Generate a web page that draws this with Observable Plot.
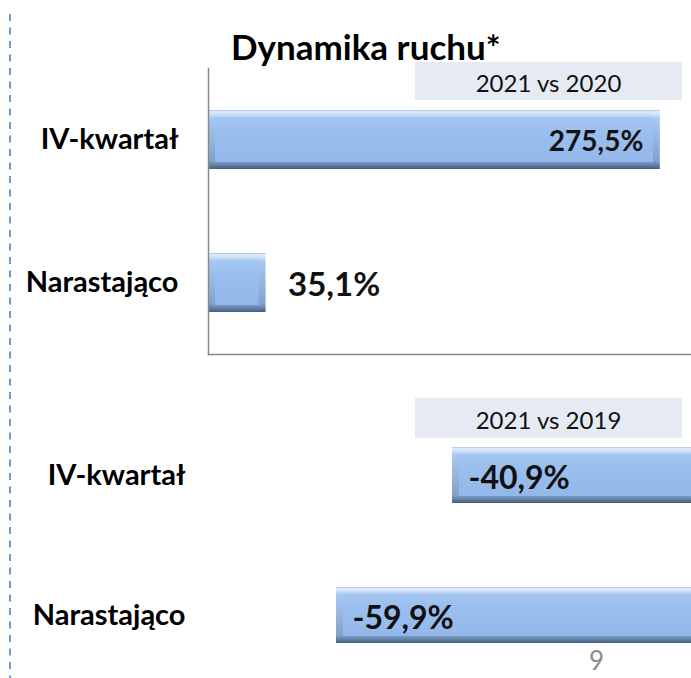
<!DOCTYPE html>
<html>
<head>
<meta charset="utf-8">
<script src="https://cdn.jsdelivr.net/npm/d3@7"></script>
<script src="https://cdn.jsdelivr.net/npm/@observablehq/plot@0.6"></script>
<style>
  html, body { margin: 0; padding: 0; background: #fff; overflow: hidden; }
  #wrap { position: relative; width: 691px; height: 678px; overflow: hidden; font-family: Lato, "Open Sans", sans-serif; }
  #wrap > * { position: absolute; }
  .box { background: #e6ebf3; font-size: 24px; color: #111; display: flex; align-items: center; justify-content: center; padding-top: 2px; box-sizing: border-box; }
  .title { font-weight: bold; font-size: 35px; color: #000; white-space: nowrap; line-height: 1.2; }
</style>
</head>
<body>
<div id="wrap"></div>
<script>
// ---- data ----
const categories = ["IV-kwartał", "Narastająco"];
const values2020 = [275.5, 35.1];
const labels2020 = ["275,5%", "35,1%"];
const values2019 = [-40.9, -59.9];
const labels2019 = ["-40,9%", "-59,9%"];
const chartTitle = "Dynamika ruchu*";
const panelTitles = ["2021 vs 2020", "2021 vs 2019"];
const pageNumber = "9";

const top2020 = categories.map((c, i) => ({cat: c, value: values2020[i], label: labels2020[i]}));
const bot2019 = categories.map((c, i) => ({cat: c, value: values2019[i], label: labels2019[i]}));

const wrap = document.getElementById("wrap");

// bevelled bar layers
function bevel(data, bevelW) {
  const base = {y: "cat", x1: () => 0, x2: "value", clip: true};
  return [
    Plot.barX(data, {...base, fill: "url(#gEdge)"}),
    Plot.ruleX(data, {x: d => Math.max(0, d.value), y: "cat", stroke: "url(#gRight)", strokeWidth: bevelW, dx: -bevelW / 2, clip: true, insetTop: 2, insetBottom: 2}),
    Plot.ruleX(data, {x: d => Math.min(0, d.value), y: "cat", stroke: "url(#gLeft)", strokeWidth: bevelW, dx: bevelW / 2, clip: true, insetTop: 3, insetBottom: 3}),
    Plot.barX(data, {...base, fill: "url(#gFace)", insetTop: bevelW, insetBottom: bevelW, insetLeft: bevelW, insetRight: bevelW})
  ];
}

function addDefs(svg) {
  const defs = d3.select(svg).insert("defs", ":first-child");
  const g1 = defs.append("linearGradient").attr("id", "gEdge").attr("x1", 0).attr("y1", 0).attr("x2", 0).attr("y2", 1);
  [[0, "#a9bfdc"], [0.03, "#e3eefc"], [0.14, "#a9c9f1"], [0.86, "#82a2cd"], [0.93, "#6584ab"], [1, "#435c84"]]
    .forEach(([o, c]) => g1.append("stop").attr("offset", o).attr("stop-color", c));
  const g2 = defs.append("linearGradient").attr("id", "gFace").attr("x1", 0).attr("y1", 0).attr("x2", 0).attr("y2", 1);
  [[0, "#a4c6f1"], [0.3, "#9bbfee"], [1, "#93b7e9"]]
    .forEach(([o, c]) => g2.append("stop").attr("offset", o).attr("stop-color", c));
  const g3 = defs.append("linearGradient").attr("id", "gRight").attr("x1", 0).attr("y1", 0).attr("x2", 1).attr("y2", 0);
  [[0, "#7491b8"], [0.7, "#4a6184"], [1, "#33445e"]]
    .forEach(([o, c]) => g3.append("stop").attr("offset", o).attr("stop-color", c));
  const g4 = defs.append("linearGradient").attr("id", "gLeft").attr("x1", 0).attr("y1", 0).attr("x2", 1).attr("y2", 0);
  [[0, "#7797c4"], [1, "#9cbeec"]]
    .forEach(([o, c]) => g4.append("stop").attr("offset", o).attr("stop-color", c));
}

// ---- top panel: 2021 vs 2020 ----
const topPlot = Plot.plot({
  width: 691, height: 678,
  marginLeft: 208, marginRight: 0, marginTop: 68, marginBottom: 324,
  style: {background: "transparent", fontFamily: "Lato, sans-serif", color: "#000"},
  x: {domain: [0, 294.5], axis: null},
  y: {domain: categories, paddingInner: 0.587, paddingOuter: 0.2935, label: null},
  marks: [
    ...bevel(top2020, 7),
    Plot.frame({anchor: "left", stroke: "#8a8a8a", strokeWidth: 1.5}),
    Plot.frame({anchor: "bottom", stroke: "#8a8a8a", strokeWidth: 1.5}),
    Plot.axisY({tickSize: 0, tickPadding: 30, fontSize: 29, fontWeight: "bold", label: null}),
    Plot.text(top2020.filter(d => d.value > 100), {x: "value", y: "cat", text: "label", textAnchor: "end", dx: -17, dy: 2, fontSize: 28, fontWeight: "bold", fill: "#111"}),
    Plot.text(top2020.filter(d => d.value <= 100), {x: "value", y: "cat", text: "label", textAnchor: "start", dx: 22, dy: 2, fontSize: 33, fontWeight: "bold", fill: "#111"})
  ]
});
addDefs(topPlot);
topPlot.style.left = "0px"; topPlot.style.top = "0px";

// ---- bottom panel: 2021 vs 2019 ----
const botPlot = Plot.plot({
  width: 691, height: 678,
  marginLeft: 208, marginRight: 0, marginTop: 430, marginBottom: 17.5,
  style: {background: "transparent", fontFamily: "Lato, sans-serif", color: "#000"},
  x: {domain: [-80.87, -1.75], axis: null},
  y: {domain: categories, paddingInner: 0.6014, paddingOuter: 0.121, label: null},
  marks: [
    ...bevel(bot2019, 7),
    Plot.axisY({tickSize: 0, tickPadding: 23, fontSize: 29, fontWeight: "bold", label: null}),
    Plot.text(bot2019, {x: "value", y: "cat", text: "label", textAnchor: "start", dx: 16, dy: 3, fontSize: 32, fontWeight: "bold", fill: "#111"})
  ]
});
addDefs(botPlot);
botPlot.style.left = "0px"; botPlot.style.top = "0px";

// dashed separator
const sep = document.createElementNS("http://www.w3.org/2000/svg", "svg");
sep.setAttribute("width", 6); sep.setAttribute("height", 678);
sep.style.left = "8px"; sep.style.top = "0px";
sep.innerHTML = '<line x1="2" x2="2" y1="14" y2="678" stroke="#6b9bd6" stroke-width="2" stroke-dasharray="7,6.5"/>';

// title & panel headers
const titleEl = document.createElement("div");
titleEl.className = "title"; titleEl.textContent = chartTitle;
titleEl.style.left = "231px"; titleEl.style.top = "25px";

const box1 = document.createElement("div");
box1.className = "box"; box1.textContent = panelTitles[0];
Object.assign(box1.style, {left: "415px", top: "62px", width: "267px", height: "38px"});
const box2 = document.createElement("div");
box2.className = "box"; box2.textContent = panelTitles[1];
Object.assign(box2.style, {left: "415px", top: "398px", width: "267px", height: "40px"});

const pg = document.createElement("div");
pg.textContent = pageNumber;
Object.assign(pg.style, {left: "589px", top: "645px", fontSize: "26px", color: "#8c8c8c", lineHeight: "1.2"});

wrap.append(sep, titleEl, topPlot, botPlot, box1, box2, pg);
</script>
</body>
</html>
